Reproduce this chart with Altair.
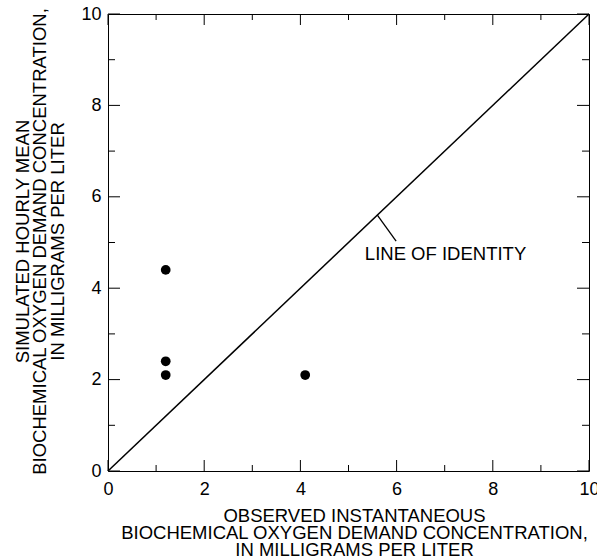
import altair as alt
import pandas as pd

# ---- data ----
observed = [1.2, 1.2, 1.2, 4.1]
simulated = [4.4, 2.4, 2.1, 2.1]
identity_vals = [0, 10]
major_ticks = [0, 2, 4, 6, 8, 10]
minor_ticks = [1, 3, 5, 7, 9]
x_title = ["OBSERVED INSTANTANEOUS",
           "BIOCHEMICAL OXYGEN DEMAND CONCENTRATION,",
           "IN MILLIGRAMS PER LITER"]
y_title = ["SIMULATED HOURLY MEAN",
           "BIOCHEMICAL OXYGEN DEMAND CONCENTRATION,",
           "IN MILLIGRAMS PER LITER"]
annot_text = ["LINE OF IDENTITY"]
annot_x = [5.34]
annot_y = [4.62]
leader_x = [5.6]
leader_y = [5.6]
leader_x2 = [5.99]
leader_y2 = [5.03]

W, H = 481, 457
FONT = "Liberation Sans"
MAJ, MIN = 11, 6

pts = pd.DataFrame({"obs": observed, "sim": simulated})
ident = pd.DataFrame({"obs": identity_vals, "sim": identity_vals})
maj = pd.DataFrame({"obs": major_ticks, "sim": major_ticks})
mnr = pd.DataFrame({"obs": minor_ticks, "sim": minor_ticks})
ann = pd.DataFrame({"obs": annot_x, "sim": annot_y, "label": annot_text})
lead = pd.DataFrame({"obs": leader_x, "sim": leader_y, "x2": leader_x2, "y2": leader_y2})

sc = alt.Scale(domain=[0, 10], nice=False, zero=False)

x_axis = alt.Axis(values=major_ticks, title=x_title, ticks=False, tickSize=0,
                  domain=False, grid=False, labelPadding=9, labelFlush=False,
                  titleX=246, titleY=35.5, titleBaseline="top", titleAlign="center",
                  titleLineHeight=17)
y_axis = alt.Axis(values=major_ticks, title=y_title, ticks=False, tickSize=0,
                  domain=False, grid=False, labelPadding=7, labelFlush=False,
                  titleAngle=270, titleX=-95, titleY=227, titleBaseline="top",
                  titleAlign="center", titleLineHeight=17.5)

X = alt.X("obs:Q", scale=sc, axis=x_axis)
Y = alt.Y("sim:Q", scale=sc, axis=y_axis)

points = alt.Chart(pts).mark_circle(size=95, color="black", opacity=1).encode(x=X, y=Y)

line = alt.Chart(ident).mark_line(color="black", strokeWidth=1.5).encode(x=X, y=Y)

leader_rule = alt.Chart(lead).mark_rule(color="black", strokeWidth=1.3).encode(
    x=X, y=Y, x2="x2:Q", y2="y2:Q")

label = alt.Chart(ann).mark_text(align="left", baseline="alphabetic", font=FONT,
                                 fontSize=18.5, color="black").encode(
    x=X, y=Y, text="label:N")

def xticks(df, length):
    bottom = alt.Chart(df).mark_rule(color="black", strokeWidth=1).encode(
        x=X, y=alt.value(H), y2=alt.value(H - length))
    top = alt.Chart(df).mark_rule(color="black", strokeWidth=1).encode(
        x=X, y=alt.value(0), y2=alt.value(length))
    return [bottom, top]

def yticks(df, length):
    left = alt.Chart(df).mark_rule(color="black", strokeWidth=1).encode(
        y=Y, x=alt.value(0), x2=alt.value(length))
    right = alt.Chart(df).mark_rule(color="black", strokeWidth=1).encode(
        y=Y, x=alt.value(W), x2=alt.value(W - length))
    return [left, right]

layers = [points, line, leader_rule, label] + xticks(maj, MAJ) + xticks(mnr, MIN) \
    + yticks(maj, MAJ + 1) + yticks(mnr, MIN + 1)

chart = alt.layer(*layers).properties(
    width=W, height=H,
    autosize=alt.AutoSizeParams(type="none"),
    padding={"left": 108, "top": 14, "right": 8, "bottom": 87},
    background="white",
).configure_view(
    stroke="black", strokeWidth=1
).configure_axis(
    labelFont=FONT, labelFontSize=18, labelColor="black",
    titleFont=FONT, titleFontSize=18.5, titleColor="black", titleFontWeight="normal",
)

chart.save("out.html", embed_options={"renderer": "svg", "actions": False})
